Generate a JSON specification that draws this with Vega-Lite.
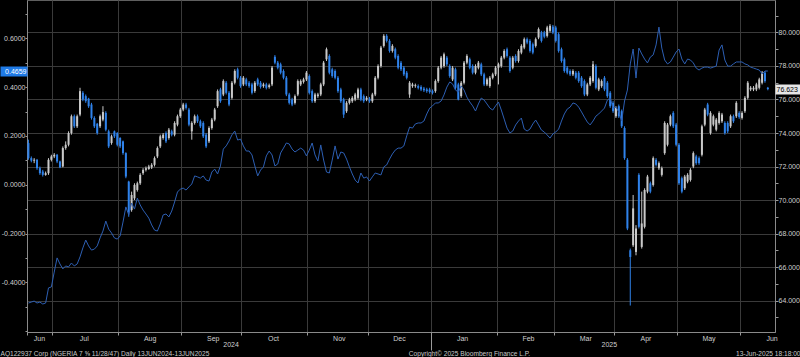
{
"$schema":"https://vega.github.io/schema/vega-lite/v6.json",
"width":748,"height":332,
"autosize":{"type":"none"},
"padding":{"left":27,"top":0,"right":25,"bottom":25},
"background":"#000000",
"config":{"view":{"stroke":"#5f5f5f","strokeWidth":1},"font":"Liberation Sans",
"axis":{"labelFont":"Liberation Sans","titleFont":"Liberation Sans","labelFontSize":7,"titleFontSize":6.6,"titleFontWeight":"normal","titleColor":"#c8c8c8","domainColor":"#8a8a8a","tickColor":"#9a9a9a","gridColor":"#3a3a3a","labelOverlap":false,"labelColor":"#cfcfcf"}},
"data":{"values":[
{"d":"2024-06-18","o":73.4,"c":72.5,"h":73.6,"l":72.4,"s":-0.485},
{"d":"2024-06-19","o":72.5,"c":72.35,"h":72.6,"l":72.25,"s":-0.481},
{"d":"2024-06-20","o":72.35,"c":72.4,"h":72.5,"l":72.2,"s":-0.477},
{"d":"2024-06-21","o":72.4,"c":71.9,"h":72.45,"l":71.8,"s":-0.485},
{"d":"2024-06-24","o":71.9,"c":71.6,"h":72.0,"l":71.5,"s":-0.481},
{"d":"2024-06-25","o":71.7,"c":71.5,"h":71.8,"l":71.4,"s":-0.489},
{"d":"2024-06-26","o":71.5,"c":71.6,"h":71.7,"l":71.45,"s":-0.485},
{"d":"2024-06-27","o":71.6,"c":72.4,"h":72.5,"l":71.5,"s":-0.423},
{"d":"2024-06-28","o":72.4,"c":72.6,"h":72.7,"l":72.3,"s":-0.419},
{"d":"2024-07-01","o":72.6,"c":72.7,"h":72.8,"l":72.5,"s":-0.358},
{"d":"2024-07-02","o":72.7,"c":72.3,"h":72.75,"l":72.2,"s":-0.300},
{"d":"2024-07-03","o":72.3,"c":71.95,"h":72.35,"l":71.9,"s":-0.325},
{"d":"2024-07-04","o":72.0,"c":73.1,"h":73.2,"l":71.95,"s":-0.345},
{"d":"2024-07-05","o":73.1,"c":73.3,"h":73.5,"l":73.0,"s":-0.333},
{"d":"2024-07-08","o":73.3,"c":74.0,"h":74.1,"l":73.2,"s":-0.337},
{"d":"2024-07-09","o":74.0,"c":75.0,"h":75.1,"l":73.9,"s":-0.321},
{"d":"2024-07-10","o":75.0,"c":74.4,"h":75.1,"l":74.3,"s":-0.333},
{"d":"2024-07-11","o":74.4,"c":75.0,"h":75.1,"l":74.3,"s":-0.325},
{"d":"2024-07-12","o":75.1,"c":76.5,"h":76.7,"l":75.0,"s":-0.296},
{"d":"2024-07-15","o":76.4,"c":76.0,"h":76.5,"l":75.9,"s":-0.259},
{"d":"2024-07-16","o":76.2,"c":75.9,"h":76.3,"l":75.8,"s":-0.227},
{"d":"2024-07-17","o":76.05,"c":75.6,"h":76.1,"l":75.5,"s":-0.251},
{"d":"2024-07-18","o":75.7,"c":74.9,"h":75.8,"l":74.8,"s":-0.268},
{"d":"2024-07-19","o":74.9,"c":74.4,"h":75.0,"l":74.3,"s":-0.264},
{"d":"2024-07-22","o":74.55,"c":74.0,"h":74.6,"l":73.9,"s":-0.251},
{"d":"2024-07-23","o":74.4,"c":75.0,"h":75.1,"l":74.3,"s":-0.218},
{"d":"2024-07-24","o":74.8,"c":75.25,"h":75.6,"l":74.7,"s":-0.190},
{"d":"2024-07-25","o":75.2,"c":74.2,"h":75.3,"l":74.1,"s":-0.149},
{"d":"2024-07-26","o":74.1,"c":73.2,"h":74.2,"l":73.1,"s":-0.182},
{"d":"2024-07-29","o":73.4,"c":73.8,"h":73.9,"l":73.3,"s":-0.198},
{"d":"2024-07-30","o":74.1,"c":73.8,"h":74.15,"l":73.7,"s":-0.218},
{"d":"2024-07-31","o":74.0,"c":73.3,"h":74.05,"l":73.2,"s":-0.223},
{"d":"2024-08-01","o":73.7,"c":73.2,"h":73.75,"l":73.1,"s":-0.210},
{"d":"2024-08-02","o":73.5,"c":72.8,"h":73.55,"l":72.7,"s":-0.153},
{"d":"2024-08-05","o":72.8,"c":71.4,"h":72.85,"l":71.3,"s":-0.091},
{"d":"2024-08-06","o":71.1,"c":69.3,"h":71.15,"l":69.0,"s":-0.124},
{"d":"2024-08-07","o":69.4,"c":70.3,"h":70.5,"l":69.3,"s":-0.075},
{"d":"2024-08-08","o":70.1,"c":70.9,"h":71.0,"l":70.0,"s":-0.100},
{"d":"2024-08-09","o":70.6,"c":71.0,"h":71.1,"l":70.5,"s":-0.055},
{"d":"2024-08-12","o":71.0,"c":71.5,"h":71.6,"l":70.9,"s":-0.083},
{"d":"2024-08-13","o":71.6,"c":71.8,"h":71.9,"l":71.5,"s":-0.104},
{"d":"2024-08-14","o":71.8,"c":71.9,"h":72.0,"l":71.7,"s":-0.120},
{"d":"2024-08-15","o":71.85,"c":72.0,"h":72.1,"l":71.8,"s":-0.137},
{"d":"2024-08-16","o":71.95,"c":72.1,"h":72.2,"l":71.85,"s":-0.165},
{"d":"2024-08-19","o":72.1,"c":72.5,"h":72.6,"l":72.0,"s":-0.186},
{"d":"2024-08-20","o":72.6,"c":73.1,"h":73.2,"l":72.5,"s":-0.190},
{"d":"2024-08-21","o":73.2,"c":73.8,"h":73.9,"l":73.1,"s":-0.161},
{"d":"2024-08-22","o":73.7,"c":73.9,"h":74.0,"l":73.6,"s":-0.124},
{"d":"2024-08-23","o":74.0,"c":73.5,"h":74.1,"l":73.4,"s":-0.120},
{"d":"2024-08-26","o":73.7,"c":74.2,"h":74.3,"l":73.6,"s":-0.132},
{"d":"2024-08-27","o":74.1,"c":73.9,"h":74.2,"l":73.8,"s":-0.108},
{"d":"2024-08-28","o":73.9,"c":74.6,"h":74.7,"l":73.8,"s":-0.071},
{"d":"2024-08-29","o":74.5,"c":75.0,"h":75.1,"l":74.4,"s":-0.030},
{"d":"2024-08-30","o":75.0,"c":75.4,"h":75.5,"l":74.9,"s":-0.018},
{"d":"2024-09-02","o":75.4,"c":75.7,"h":75.8,"l":75.3,"s":-0.014},
{"d":"2024-09-03","o":75.7,"c":75.5,"h":75.8,"l":75.4,"s":-0.022},
{"d":"2024-09-04","o":75.4,"c":74.5,"h":75.5,"l":74.4,"s":-0.009},
{"d":"2024-09-05","o":74.1,"c":74.6,"h":74.7,"l":73.6,"s":0.003},
{"d":"2024-09-06","o":74.6,"c":75.0,"h":75.1,"l":74.5,"s":0.036},
{"d":"2024-09-09","o":75.0,"c":74.7,"h":75.1,"l":74.6,"s":0.032},
{"d":"2024-09-10","o":74.7,"c":74.4,"h":74.8,"l":74.3,"s":0.027},
{"d":"2024-09-11","o":74.6,"c":73.8,"h":74.7,"l":73.7,"s":0.036},
{"d":"2024-09-12","o":73.9,"c":73.2,"h":74.0,"l":73.1,"s":0.019},
{"d":"2024-09-13","o":73.5,"c":74.3,"h":74.4,"l":73.4,"s":0.015},
{"d":"2024-09-16","o":74.3,"c":74.8,"h":74.9,"l":74.2,"s":0.052},
{"d":"2024-09-17","o":74.8,"c":75.4,"h":75.5,"l":74.7,"s":0.064},
{"d":"2024-09-18","o":75.6,"c":76.5,"h":76.6,"l":75.5,"s":0.044},
{"d":"2024-09-19","o":76.6,"c":75.9,"h":76.7,"l":75.8,"s":0.077},
{"d":"2024-09-20","o":76.3,"c":77.1,"h":77.2,"l":76.2,"s":0.146},
{"d":"2024-09-23","o":77.0,"c":76.4,"h":77.1,"l":76.3,"s":0.159},
{"d":"2024-09-24","o":76.4,"c":75.7,"h":76.5,"l":75.6,"s":0.179},
{"d":"2024-09-25","o":76.1,"c":77.0,"h":77.1,"l":76.0,"s":0.204},
{"d":"2024-09-26","o":77.0,"c":77.7,"h":77.8,"l":76.9,"s":0.220},
{"d":"2024-09-27","o":77.8,"c":77.3,"h":77.9,"l":77.2,"s":0.183},
{"d":"2024-09-30","o":77.3,"c":76.8,"h":77.4,"l":76.7,"s":0.187},
{"d":"2024-10-01","o":76.9,"c":77.3,"h":77.4,"l":76.8,"s":0.159},
{"d":"2024-10-02","o":77.2,"c":76.9,"h":77.3,"l":76.8,"s":0.138},
{"d":"2024-10-03","o":77.0,"c":76.8,"h":77.1,"l":76.7,"s":0.138},
{"d":"2024-10-04","o":76.9,"c":76.4,"h":77.0,"l":76.3,"s":0.122},
{"d":"2024-10-07","o":76.5,"c":77.0,"h":77.1,"l":76.4,"s":0.077},
{"d":"2024-10-08","o":77.2,"c":76.9,"h":77.3,"l":76.8,"s":0.036},
{"d":"2024-10-09","o":77.0,"c":76.75,"h":77.1,"l":76.65,"s":0.060},
{"d":"2024-10-10","o":76.8,"c":76.9,"h":77.0,"l":76.7,"s":0.073},
{"d":"2024-10-11","o":76.9,"c":76.7,"h":77.0,"l":76.6,"s":0.118},
{"d":"2024-10-14","o":76.75,"c":76.85,"h":76.95,"l":76.65,"s":0.138},
{"d":"2024-10-15","o":76.9,"c":77.9,"h":78.0,"l":76.8,"s":0.122},
{"d":"2024-10-16","o":78.55,"c":78.2,"h":78.65,"l":78.1,"s":0.077},
{"d":"2024-10-17","o":78.2,"c":77.9,"h":78.3,"l":77.8,"s":0.085},
{"d":"2024-10-18","o":78.1,"c":77.6,"h":78.2,"l":77.5,"s":0.130},
{"d":"2024-10-21","o":77.7,"c":77.3,"h":77.8,"l":77.2,"s":0.150},
{"d":"2024-10-22","o":77.3,"c":76.3,"h":77.4,"l":76.2,"s":0.171},
{"d":"2024-10-23","o":76.3,"c":75.8,"h":76.4,"l":75.7,"s":0.167},
{"d":"2024-10-24","o":76.0,"c":75.7,"h":76.1,"l":75.6,"s":0.146},
{"d":"2024-10-25","o":75.8,"c":76.2,"h":76.3,"l":75.7,"s":0.134},
{"d":"2024-10-28","o":76.3,"c":77.1,"h":77.2,"l":76.2,"s":0.142},
{"d":"2024-10-29","o":76.9,"c":77.1,"h":77.2,"l":76.8,"s":0.150},
{"d":"2024-10-30","o":77.05,"c":77.2,"h":77.3,"l":76.95,"s":0.142},
{"d":"2024-10-31","o":77.2,"c":77.6,"h":77.7,"l":77.1,"s":0.118},
{"d":"2024-11-01","o":77.4,"c":76.4,"h":77.5,"l":76.3,"s":0.142},
{"d":"2024-11-04","o":76.5,"c":75.9,"h":76.6,"l":75.8,"s":0.171},
{"d":"2024-11-05","o":75.9,"c":76.3,"h":76.4,"l":75.8,"s":0.122},
{"d":"2024-11-06","o":76.2,"c":76.3,"h":76.4,"l":76.1,"s":0.097},
{"d":"2024-11-07","o":76.3,"c":76.9,"h":77.0,"l":76.2,"s":0.163},
{"d":"2024-11-08","o":76.9,"c":78.2,"h":78.3,"l":76.8,"s":0.101},
{"d":"2024-11-11","o":78.4,"c":79.0,"h":79.1,"l":78.3,"s":0.052},
{"d":"2024-11-12","o":78.6,"c":77.6,"h":78.7,"l":77.5,"s":0.048},
{"d":"2024-11-13","o":77.8,"c":77.4,"h":77.9,"l":77.3,"s":0.101},
{"d":"2024-11-14","o":77.7,"c":77.3,"h":77.8,"l":77.2,"s":0.159},
{"d":"2024-11-15","o":77.3,"c":76.5,"h":77.4,"l":76.4,"s":0.105},
{"d":"2024-11-18","o":76.6,"c":75.9,"h":76.7,"l":75.8,"s":0.134},
{"d":"2024-11-19","o":76.0,"c":75.1,"h":76.1,"l":74.9,"s":0.130},
{"d":"2024-11-20","o":75.3,"c":75.8,"h":75.9,"l":75.2,"s":0.105},
{"d":"2024-11-21","o":75.8,"c":76.0,"h":76.1,"l":75.7,"s":0.073},
{"d":"2024-11-22","o":75.9,"c":76.1,"h":76.2,"l":75.8,"s":0.044},
{"d":"2024-11-25","o":76.0,"c":76.3,"h":76.4,"l":75.9,"s":0.019},
{"d":"2024-11-26","o":76.1,"c":76.6,"h":76.7,"l":76.0,"s":0.007},
{"d":"2024-11-27","o":76.6,"c":76.0,"h":76.7,"l":75.9,"s":0.048},
{"d":"2024-11-28","o":76.2,"c":75.9,"h":76.3,"l":75.8,"s":0.027},
{"d":"2024-11-29","o":76.0,"c":76.1,"h":76.2,"l":75.9,"s":0.032},
{"d":"2024-12-02","o":76.05,"c":75.9,"h":76.15,"l":75.8,"s":0.015},
{"d":"2024-12-03","o":75.9,"c":76.3,"h":76.4,"l":75.8,"s":0.032},
{"d":"2024-12-04","o":76.3,"c":77.3,"h":77.4,"l":76.2,"s":0.048},
{"d":"2024-12-05","o":77.3,"c":78.0,"h":78.1,"l":77.2,"s":0.044},
{"d":"2024-12-06","o":78.0,"c":79.1,"h":79.2,"l":77.9,"s":0.040},
{"d":"2024-12-09","o":79.2,"c":79.8,"h":79.9,"l":79.1,"s":0.073},
{"d":"2024-12-10","o":79.8,"c":79.5,"h":79.9,"l":79.4,"s":0.081},
{"d":"2024-12-11","o":79.5,"c":78.9,"h":79.6,"l":78.8,"s":0.105},
{"d":"2024-12-12","o":78.9,"c":79.2,"h":79.3,"l":78.8,"s":0.126},
{"d":"2024-12-13","o":79.0,"c":78.5,"h":79.1,"l":78.4,"s":0.142},
{"d":"2024-12-16","o":78.6,"c":77.9,"h":78.7,"l":77.8,"s":0.150},
{"d":"2024-12-17","o":78.2,"c":77.8,"h":78.3,"l":77.7,"s":0.150},
{"d":"2024-12-18","o":77.9,"c":77.5,"h":78.0,"l":77.4,"s":0.159},
{"d":"2024-12-19","o":77.6,"c":77.3,"h":77.7,"l":77.2,"s":0.200},
{"d":"2024-12-20","o":76.3,"c":77.0,"h":77.1,"l":76.1,"s":0.236},
{"d":"2024-12-23","o":76.8,"c":76.9,"h":77.0,"l":76.7,"s":0.232},
{"d":"2024-12-24","o":76.8,"c":76.85,"h":76.95,"l":76.7,"s":0.249},
{"d":"2024-12-25","o":76.8,"c":76.7,"h":76.9,"l":76.6,"s":0.253},
{"d":"2024-12-26","o":76.75,"c":76.6,"h":76.85,"l":76.5,"s":0.253},
{"d":"2024-12-27","o":76.65,"c":76.55,"h":76.75,"l":76.45,"s":0.261},
{"d":"2024-12-30","o":76.6,"c":76.5,"h":76.7,"l":76.4,"s":0.290},
{"d":"2024-12-31","o":76.6,"c":76.45,"h":76.7,"l":76.35,"s":0.314},
{"d":"2025-01-01","o":76.5,"c":76.4,"h":76.6,"l":76.3,"s":0.323},
{"d":"2025-01-02","o":76.5,"c":77.1,"h":77.2,"l":76.4,"s":0.335},
{"d":"2025-01-03","o":77.1,"c":77.9,"h":78.0,"l":77.0,"s":0.335},
{"d":"2025-01-06","o":77.9,"c":78.5,"h":78.6,"l":77.8,"s":0.343},
{"d":"2025-01-07","o":78.0,"c":78.7,"h":78.8,"l":77.9,"s":0.368},
{"d":"2025-01-08","o":78.5,"c":78.1,"h":78.6,"l":78.0,"s":0.400},
{"d":"2025-01-09","o":78.0,"c":77.4,"h":78.1,"l":77.3,"s":0.421},
{"d":"2025-01-10","o":77.2,"c":77.9,"h":78.0,"l":77.1,"s":0.413},
{"d":"2025-01-13","o":77.8,"c":76.7,"h":77.9,"l":76.6,"s":0.388},
{"d":"2025-01-14","o":76.9,"c":76.0,"h":77.0,"l":75.95,"s":0.380},
{"d":"2025-01-15","o":76.2,"c":77.0,"h":77.1,"l":76.1,"s":0.405},
{"d":"2025-01-16","o":77.0,"c":78.2,"h":78.3,"l":76.9,"s":0.388},
{"d":"2025-01-17","o":78.2,"c":78.6,"h":78.7,"l":78.1,"s":0.359},
{"d":"2025-01-20","o":78.4,"c":77.9,"h":78.5,"l":77.8,"s":0.339},
{"d":"2025-01-21","o":78.0,"c":77.6,"h":78.1,"l":77.5,"s":0.323},
{"d":"2025-01-22","o":77.6,"c":78.0,"h":78.1,"l":77.5,"s":0.302},
{"d":"2025-01-23","o":77.9,"c":78.2,"h":78.3,"l":77.8,"s":0.331},
{"d":"2025-01-24","o":78.1,"c":77.5,"h":78.2,"l":77.4,"s":0.355},
{"d":"2025-01-27","o":77.5,"c":76.9,"h":77.6,"l":76.8,"s":0.347},
{"d":"2025-01-28","o":76.9,"c":77.2,"h":77.3,"l":76.8,"s":0.331},
{"d":"2025-01-29","o":76.8,"c":77.3,"h":77.4,"l":76.7,"s":0.314},
{"d":"2025-01-30","o":77.3,"c":77.5,"h":77.6,"l":77.2,"s":0.306},
{"d":"2025-01-31","o":77.5,"c":77.9,"h":78.0,"l":77.4,"s":0.323},
{"d":"2025-02-03","o":77.9,"c":78.1,"h":78.2,"l":76.9,"s":0.339},
{"d":"2025-02-04","o":78.0,"c":78.5,"h":78.6,"l":77.9,"s":0.306},
{"d":"2025-02-05","o":78.5,"c":78.9,"h":79.0,"l":78.4,"s":0.269},
{"d":"2025-02-06","o":79.0,"c":78.6,"h":79.1,"l":78.5,"s":0.232},
{"d":"2025-02-07","o":78.5,"c":77.7,"h":78.6,"l":77.6,"s":0.212},
{"d":"2025-02-10","o":77.9,"c":78.5,"h":78.6,"l":77.8,"s":0.220},
{"d":"2025-02-11","o":78.6,"c":78.3,"h":78.7,"l":78.2,"s":0.245},
{"d":"2025-02-12","o":78.3,"c":78.9,"h":79.0,"l":78.2,"s":0.261},
{"d":"2025-02-13","o":78.8,"c":79.2,"h":79.3,"l":78.7,"s":0.273},
{"d":"2025-02-14","o":79.1,"c":79.6,"h":79.7,"l":79.0,"s":0.228},
{"d":"2025-02-17","o":79.6,"c":79.4,"h":79.7,"l":79.3,"s":0.220},
{"d":"2025-02-18","o":79.5,"c":78.9,"h":79.6,"l":78.8,"s":0.228},
{"d":"2025-02-19","o":79.3,"c":78.8,"h":79.4,"l":78.7,"s":0.249},
{"d":"2025-02-20","o":79.2,"c":79.6,"h":79.7,"l":79.1,"s":0.265},
{"d":"2025-02-21","o":79.7,"c":80.2,"h":80.3,"l":79.6,"s":0.245},
{"d":"2025-02-24","o":80.0,"c":79.5,"h":80.1,"l":79.4,"s":0.224},
{"d":"2025-02-25","o":80.0,"c":79.75,"h":80.1,"l":79.65,"s":0.216},
{"d":"2025-02-26","o":79.8,"c":80.3,"h":80.4,"l":79.7,"s":0.204},
{"d":"2025-02-27","o":80.1,"c":80.4,"h":80.5,"l":80.0,"s":0.191},
{"d":"2025-02-28","o":80.35,"c":80.0,"h":80.45,"l":79.9,"s":0.208},
{"d":"2025-03-03","o":80.3,"c":79.5,"h":80.4,"l":79.4,"s":0.216},
{"d":"2025-03-04","o":79.9,"c":78.9,"h":80.0,"l":78.8,"s":0.228},
{"d":"2025-03-05","o":79.0,"c":78.3,"h":79.1,"l":78.2,"s":0.261},
{"d":"2025-03-06","o":78.4,"c":77.7,"h":78.5,"l":77.6,"s":0.290},
{"d":"2025-03-07","o":77.9,"c":77.6,"h":78.0,"l":77.5,"s":0.310},
{"d":"2025-03-10","o":77.7,"c":77.5,"h":77.8,"l":77.4,"s":0.318},
{"d":"2025-03-11","o":77.5,"c":77.7,"h":77.8,"l":77.4,"s":0.335},
{"d":"2025-03-12","o":77.6,"c":77.3,"h":77.7,"l":77.2,"s":0.331},
{"d":"2025-03-13","o":77.6,"c":77.1,"h":77.7,"l":77.0,"s":0.318},
{"d":"2025-03-14","o":77.3,"c":76.8,"h":77.4,"l":76.7,"s":0.298},
{"d":"2025-03-17","o":77.1,"c":76.3,"h":77.2,"l":76.2,"s":0.277},
{"d":"2025-03-18","o":76.3,"c":76.9,"h":77.0,"l":76.2,"s":0.257},
{"d":"2025-03-19","o":76.9,"c":77.3,"h":77.4,"l":76.8,"s":0.245},
{"d":"2025-03-20","o":77.1,"c":78.1,"h":78.3,"l":77.0,"s":0.261},
{"d":"2025-03-21","o":78.0,"c":76.7,"h":78.1,"l":76.6,"s":0.281},
{"d":"2025-03-24","o":76.6,"c":77.2,"h":77.3,"l":76.5,"s":0.290},
{"d":"2025-03-25","o":76.8,"c":77.1,"h":77.2,"l":76.7,"s":0.302},
{"d":"2025-03-26","o":77.3,"c":76.6,"h":77.4,"l":76.5,"s":0.314},
{"d":"2025-03-27","o":77.0,"c":76.2,"h":77.1,"l":76.1,"s":0.347},
{"d":"2025-03-28","o":76.4,"c":75.6,"h":76.5,"l":75.5,"s":0.355},
{"d":"2025-03-31","o":75.8,"c":75.3,"h":75.9,"l":75.2,"s":0.314},
{"d":"2025-04-01","o":75.0,"c":75.5,"h":75.6,"l":74.9,"s":0.318},
{"d":"2025-04-02","o":75.6,"c":75.0,"h":75.7,"l":74.9,"s":0.298},
{"d":"2025-04-03","o":75.3,"c":74.4,"h":75.4,"l":74.3,"s":0.261},
{"d":"2025-04-04","o":74.3,"c":72.5,"h":74.4,"l":72.4,"s":0.343},
{"d":"2025-04-07","o":72.4,"c":68.3,"h":72.5,"l":68.2,"s":0.388},
{"d":"2025-04-08","o":67.0,"c":66.6,"h":67.1,"l":63.7,"s":0.495},
{"d":"2025-04-09","o":67.3,"c":69.5,"h":70.3,"l":67.2,"s":0.556},
{"d":"2025-04-10","o":66.9,"c":68.3,"h":68.5,"l":66.7,"s":0.437},
{"d":"2025-04-11","o":71.5,"c":68.4,"h":71.6,"l":68.3,"s":0.560},
{"d":"2025-04-14","o":67.2,"c":68.6,"h":70.5,"l":67.1,"s":0.536},
{"d":"2025-04-15","o":68.4,"c":70.6,"h":70.7,"l":68.3,"s":0.515},
{"d":"2025-04-16","o":70.5,"c":71.4,"h":71.5,"l":70.4,"s":0.499},
{"d":"2025-04-17","o":71.0,"c":70.5,"h":71.1,"l":70.4,"s":0.523},
{"d":"2025-04-18","o":70.9,"c":72.5,"h":72.6,"l":70.8,"s":0.532},
{"d":"2025-04-21","o":72.4,"c":72.1,"h":72.5,"l":72.0,"s":0.573},
{"d":"2025-04-22","o":71.9,"c":72.2,"h":72.3,"l":71.8,"s":0.646},
{"d":"2025-04-23","o":71.5,"c":71.9,"h":72.0,"l":71.4,"s":0.560},
{"d":"2025-04-24","o":72.8,"c":74.6,"h":74.7,"l":72.7,"s":0.511},
{"d":"2025-04-25","o":73.3,"c":74.5,"h":74.6,"l":73.2,"s":0.495},
{"d":"2025-04-28","o":74.5,"c":75.0,"h":75.1,"l":74.4,"s":0.503},
{"d":"2025-04-29","o":75.2,"c":74.4,"h":75.3,"l":74.3,"s":0.523},
{"d":"2025-04-30","o":74.5,"c":73.3,"h":74.6,"l":73.2,"s":0.544},
{"d":"2025-05-01","o":73.3,"c":71.0,"h":73.4,"l":70.9,"s":0.556},
{"d":"2025-05-02","o":71.3,"c":70.5,"h":71.4,"l":70.4,"s":0.515},
{"d":"2025-05-05","o":70.7,"c":71.4,"h":71.5,"l":70.6,"s":0.495},
{"d":"2025-05-06","o":71.1,"c":71.5,"h":71.6,"l":71.0,"s":0.515},
{"d":"2025-05-07","o":71.2,"c":71.8,"h":71.9,"l":71.1,"s":0.511},
{"d":"2025-05-08","o":72.0,"c":72.8,"h":72.9,"l":71.9,"s":0.499},
{"d":"2025-05-09","o":72.6,"c":72.2,"h":72.7,"l":72.1,"s":0.478},
{"d":"2025-05-12","o":72.5,"c":72.2,"h":72.6,"l":72.1,"s":0.470},
{"d":"2025-05-13","o":72.7,"c":74.4,"h":74.5,"l":72.6,"s":0.478},
{"d":"2025-05-14","o":74.5,"c":75.4,"h":75.5,"l":74.4,"s":0.482},
{"d":"2025-05-15","o":75.7,"c":75.1,"h":75.8,"l":75.0,"s":0.482},
{"d":"2025-05-16","o":74.0,"c":75.2,"h":75.3,"l":73.9,"s":0.478},
{"d":"2025-05-19","o":74.5,"c":75.0,"h":75.1,"l":74.4,"s":0.482},
{"d":"2025-05-20","o":74.2,"c":74.8,"h":74.9,"l":74.1,"s":0.486},
{"d":"2025-05-21","o":74.6,"c":75.2,"h":75.3,"l":74.5,"s":0.552},
{"d":"2025-05-22","o":74.7,"c":75.1,"h":75.2,"l":74.6,"s":0.573},
{"d":"2025-05-23","o":74.6,"c":74.0,"h":74.7,"l":73.9,"s":0.511},
{"d":"2025-05-26","o":74.6,"c":74.1,"h":74.7,"l":74.0,"s":0.486},
{"d":"2025-05-27","o":74.4,"c":75.0,"h":75.1,"l":74.3,"s":0.486},
{"d":"2025-05-28","o":75.0,"c":74.7,"h":75.1,"l":74.6,"s":0.495},
{"d":"2025-05-29","o":75.0,"c":75.8,"h":75.9,"l":74.9,"s":0.503},
{"d":"2025-05-30","o":75.2,"c":74.95,"h":75.3,"l":74.85,"s":0.503},
{"d":"2025-06-02","o":74.9,"c":75.2,"h":75.3,"l":74.8,"s":0.503},
{"d":"2025-06-03","o":75.3,"c":76.1,"h":76.2,"l":75.2,"s":0.495},
{"d":"2025-06-04","o":76.1,"c":77.0,"h":77.1,"l":76.0,"s":0.491},
{"d":"2025-06-05","o":76.6,"c":76.7,"h":76.8,"l":76.5,"s":0.482},
{"d":"2025-06-06","o":76.6,"c":76.7,"h":76.8,"l":76.5,"s":0.478},
{"d":"2025-06-09","o":76.6,"c":76.9,"h":77.0,"l":76.5,"s":0.474},
{"d":"2025-06-10","o":76.7,"c":77.2,"h":77.3,"l":76.6,"s":0.470},
{"d":"2025-06-11","o":77.0,"c":77.6,"h":77.7,"l":76.9,"s":0.454},
{"d":"2025-06-12","o":77.6,"c":77.1,"h":77.7,"l":77.0,"s":0.466},
{"d":"2025-06-13","o":76.7,"c":76.623,"h":76.75,"l":76.55,"s":0.4659}
]},
"layer":[
{"layer":[
{"mark":{"type":"rule","strokeWidth":1},
"encoding":{
"x":{"field":"d","type":"ordinal","scale":{"type":"band","paddingInner":0,"paddingOuter":2.5,"align":0},
"axis":{"orient":"bottom",
"values":["2024-06-18","2024-07-01","2024-08-01","2024-09-02","2024-10-01","2024-11-01","2024-12-02","2025-01-01","2025-02-03","2025-03-03","2025-04-01","2025-05-01","2025-06-02"],
"bandPosition":0,
"labelExpr":"['Jan','Feb','Mar','Apr','May','Jun','Jul','Aug','Sep','Oct','Nov','Dec'][toNumber(substring(datum.value,5,7))-1]",
"labelAngle":0,"labelAlign":"center","labelBaseline":"top",
"labelOffset":{"condition":{"test":"datum.value == '2024-06-18'","value":11},"value":30},
"labelPadding":-1,"tickSize":3,
"grid":true,
"gridOpacity":{"condition":{"test":"datum.value == '2024-06-18'","value":0},"value":1},
"title":"Copyright\u00a9 2025 Bloomberg Finance L.P.","titleX":442,"titleY":23,"titleAlign":"center","titleBaseline":"alphabetic"}},
"y":{"field":"l","type":"quantitative","scale":{"domain":[62.12,81.94],"nice":false,"zero":false},
"axis":{"orient":"right",
"values":[63,64,65,66,67,68,69,70,71,72,73,74,75,76,77,78,79,80,81],
"labelExpr":"(datum.value % 2 == 0 && datum.value >= 64 && datum.value <= 80) ? format(datum.value, '.3f') : ''",
"labelPadding":0,"tickSize":3,
"grid":true,
"gridOpacity":{"condition":{"test":"datum.value % 2 == 0","value":1},"value":0},
"title":"13-Jun-2025 18:18:00","titleAngle":0,"titleX":25,"titleY":355,"titleAlign":"right","titleBaseline":"alphabetic"}},
"y2":{"field":"h"},
"color":{"condition":{"test":"datum.c >= datum.o","value":"#c9c9c9"},"value":"#2f82ea"}}},
{"mark":{"type":"bar","size":2},
"encoding":{
"x":{"field":"d","type":"ordinal"},
"y":{"field":"o","type":"quantitative",
"axis":{"orient":"right","values":[76.623],"format":".3f","domain":false,"grid":false,"tickSize":25,"tickWidth":10,"tickColor":"#e6e6e6","labelPadding":-24,"labelColor":"#000000","title":null}},
"y2":{"field":"c"},
"color":{"condition":{"test":"datum.c >= datum.o","value":"#c9c9c9"},"value":"#2f82ea"}}}
],"resolve":{"axis":{"y":"independent"}}},
{"layer":[
{"mark":{"type":"line","strokeWidth":1,"color":"#2d5fb3"},
"encoding":{
"x":{"field":"d","type":"ordinal",
"axis":{"orient":"bottom","values":["2024-09-24","2025-01-01","2025-03-27"],"bandPosition":0,"domain":false,"grid":false,
"labelExpr":"datum.value == '2024-09-24' ? '2024' : datum.value == '2025-03-27' ? '2025' : ''",
"labelAngle":0,"labelAlign":"center","labelBaseline":"top","labelOffset":2,"labelPadding":-10,
"tickSize":18,"tickOpacity":{"condition":{"test":"datum.value == '2025-01-01'","value":1},"value":0},"title":null}},
"y":{"field":"s","type":"quantitative","scale":{"domain":[-0.6037,0.757],"nice":false,"zero":false},
"axis":{"orient":"left",
"values":[-0.6,-0.5,-0.4,-0.3,-0.2,-0.1,0,0.1,0.2,0.3,0.4,0.5,0.6,0.7],
"labelExpr":"indexof([-0.4,-0.2,0,0.2,0.4,0.6], datum.value) >= 0 ? replace(format(datum.value, '.4f'), '\u2212', '-') : ''",
"labelPadding":0,"tickSize":2,"grid":false,
"title":"AQ122937 Corp (NGERIA 7 \u215d 11/28/47)  Daily 13JUN2024-13JUN2025","titleAngle":0,"titleX":-27,"titleY":355,"titleAlign":"left","titleBaseline":"alphabetic"}}}},
{"mark":{"type":"line","strokeWidth":1,"strokeOpacity":0},
"encoding":{
"x":{"field":"d","type":"ordinal"},
"y":{"field":"s","type":"quantitative",
"axis":{"orient":"left","values":[0.4659],"format":".4f","domain":false,"grid":false,"tickSize":27,"tickWidth":10,"tickColor":"#1f7ae6","labelPadding":-26,"labelColor":"#ffffff","title":null}}}}
],"resolve":{"axis":{"y":"independent"}}}
],
"resolve":{"scale":{"y":"independent"},"axis":{"x":"independent"}}
}
